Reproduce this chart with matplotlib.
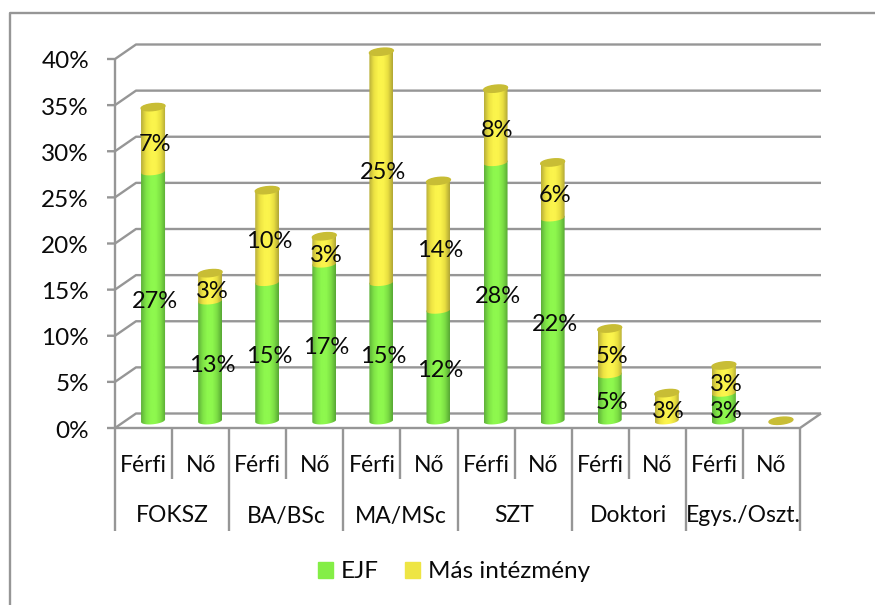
#!/usr/bin/env python3
"""Stacked cylinder chart: EJF vs other institutions by level and gender."""

import numpy as np
import matplotlib
matplotlib.use("Agg")
import matplotlib.pyplot as plt
from matplotlib.lines import Line2D
from matplotlib.patches import Patch, PathPatch
from matplotlib.path import Path
from matplotlib.colors import LinearSegmentedColormap

plt.rcParams["font.family"] = ["Lato", "DejaVu Sans"]

genders = ["Férfi", "Nő"] * 6
groups = ["FOKSZ", "BA/BSc", "MA/MSc", "SZT", "Doktori", "Egys./Oszt."]
ejf = [27, 13, 15, 17, 15, 12, 28, 22, 5, 0, 3, 0]
mas = [7, 3, 10, 3, 25, 14, 8, 6, 5, 3, 3, 0]
yticks = [0, 5, 10, 15, 20, 25, 30, 35, 40]

W, H = 875, 605
GREY = "#969696"
TXT = "#0a0a0a"

fig = plt.figure(figsize=(W / 100, H / 100), dpi=100)
# axes box is the front face of the 3D plot: x in categories, y in percent
ax = fig.add_axes([115 / W, 1 - 428 / H, 685 / W, 369 / H])
ax.set_xlim(0, 12)
ax.set_ylim(0, 40)
ax.axis("off")

px = 12 / 685  # data units per pixel, x
py = 40 / 369  # data units per pixel, y
dx, dy = 21 * px, 14.5 * py  # depth of the floor
bw = 24 * px
eh = 7 * py
tilt = 1.2 * py


def line(xs, ys, lw=1.7, z=1):
    ax.plot(xs, ys, color=GREY, lw=lw, clip_on=False, zorder=z, solid_capstyle="butt")


# walls and floor
for v in yticks:
    line([-8 * px, 0, dx, 12 + dx], [v, v, v + dy, v + dy])
line([0, 0], [0, 40])
line([0, 12, 12 + dx], [0, 0, dy])

# category separators below the floor
for i in range(13):
    bottom = -103 * py if i % 2 == 0 else -51 * py
    line([i, i], [0, bottom])

green_cm = LinearSegmentedColormap.from_list("g", ["#5fb03a", "#7fe446", "#8ef84e", "#8ef84e", "#7cde44", "#58a834"])
yellow_cm = LinearSegmentedColormap.from_list("y", ["#b8ae3a", "#ece242", "#fbf44c", "#fbf44c", "#e8de40", "#b0a636"])
grad = np.linspace(0, 1, 64).reshape(1, -1)


def arc(xc, yc, start, stop):
    t = np.linspace(start, stop, 24)
    return np.column_stack([xc + bw / 2 * np.cos(t), yc + eh / 2 * np.sin(t) + tilt * np.cos(t)])


def cylinder(xc, y0, y1, cmap, z):
    # body: front arc at the bottom, front arc at the top
    pts = np.vstack([arc(xc, y0, np.pi, 2 * np.pi), arc(xc, y1, 0, np.pi)])
    body = PathPatch(Path(np.vstack([pts, pts[0]])), transform=ax.transData)
    img = ax.imshow(grad, extent=(xc - bw / 2, xc + bw / 2, y0 - eh, y1 + eh), aspect="auto",
                    cmap=cmap, zorder=z)
    img.set_clip_box(fig.bbox)
    img.set_clip_path(body)


floor_y = dy / 2
for i, (a, b) in enumerate(zip(ejf, mas)):
    xc = i + 0.5 + dx / 2 - 1 * px
    base = floor_y
    if a > 0:
        cylinder(xc, base, base + a, green_cm, 3)
    if b > 0:
        cylinder(xc, base + a, base + a + b, yellow_cm, 4)
    # top cap
    cap = arc(xc, base + a + b, 0, 2 * np.pi)
    ax.fill(cap[:, 0], cap[:, 1], color="#c8bd35", zorder=5, clip_on=False)
    if a > 0:
        ax.text(xc + 2 * px, base + a / 2 - 5 * py, f"{a}%", ha="center", va="center", fontsize=17, color=TXT, zorder=7)
    if b > 0:
        ax.text(xc + 2 * px, base + a + b / 2 - 5 * py, f"{b}%", ha="center", va="center", fontsize=17, color=TXT, zorder=7)

ax.set_xlim(0, 12)
ax.set_ylim(0, 40)

for v in yticks:
    ax.text(-26 * px, v - 3 * py, f"{v}%", ha="right", va="center", fontsize=17.5, color=TXT, clip_on=False)
for i, g in enumerate(genders):
    ax.text(i + 0.5, -37 * py, g, ha="center", va="center", fontsize=16.5, color=TXT, clip_on=False)
for i, g in enumerate(groups):
    ax.text(2 * i + 1, -88 * py, g, ha="center", va="center", fontsize=16.5, color=TXT, clip_on=False)

# chart frame: only the top and left edges fall inside the picture
fig.add_artist(Line2D([10 / W, 10 / W, 1], [0, 1 - 13 / H, 1 - 13 / H], color=GREY, lw=1.7,
                      transform=fig.transFigure))

handles = [Patch(color="#84ee46"), Patch(color="#eee544")]
fig.legend(handles, ["EJF", "Más intézmény"], ncol=2, frameon=False, fontsize=17.5,
           loc="center", bbox_to_anchor=(454 / W, 1 - 572 / H), handlelength=0.62, handleheight=0.62,
           handletextpad=0.35, columnspacing=1.05, labelcolor=TXT)

fig.savefig("out.png", dpi=100)
plt.close(fig)
